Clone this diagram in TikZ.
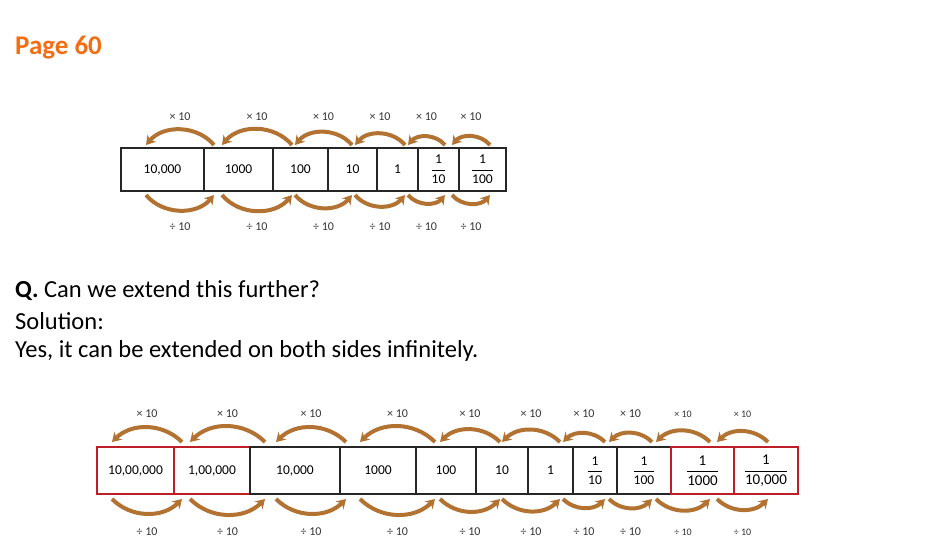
\documentclass[tikz,border=0pt]{standalone}
\usepackage{fontspec}
\setmainfont{Carlito}
\usetikzlibrary{arrows.meta}
\definecolor{arc}{RGB}{178,114,50}
\definecolor{ttl}{RGB}{242,110,20}
\definecolor{rbox}{RGB}{190,30,40}
\newcommand{\fr}[2]{$\displaystyle\frac{\mbox{#1}}{\mbox{#2}}$}
\tikzset{
 cell/.style={draw=black!85,line width=1.4pt,minimum height=43pt,inner sep=0pt,font=\fontsize{13.5}{14}\selectfont},
 rcell/.style={cell,draw=rbox,line width=1.3pt},
 carc/.style={draw=arc,line width=4pt,-{Stealth[length=9pt,width=11pt]}},
 lab/.style={font=\fontsize{12}{13}\selectfont,text=black!80},
 qtext/.style={anchor=west,font=\fontsize{24.5}{26}\selectfont,inner sep=0pt}
}
\begin{document}
\begin{tikzpicture}[x=1pt,y=-1pt]
\useasboundingbox (0,0) rectangle (941,550);
\node[anchor=west,text=ttl,font=\fontsize{27}{29}\selectfont\bfseries,inner sep=0pt] (title) at (15,48) {Page 60};
% top row
\foreach \n/\a/\b/\t in {t1/121/204/{10,000},t2/204/273/1000,t3/273/328/100,t4/328/377/10,t5/377/418/1,t6/418/459/{\fr{1}{10}},t7/459/506/{\fr{1}{100}}}{
 \pgfmathsetmacro\w{\b-\a}
 \node[cell,minimum width=\w pt] (\n) at ({(\a+\b)/2},169.5) {\t};
}
\foreach \i/\a/\b in {1/146/214,2/222/292,3/295/352,4/355/405,5/408/445,6/452/490}{
 \coordinate (tu\i a) at (\a,145); \coordinate (tu\i b) at (\b,145);
 \coordinate (td\i a) at (\a,195); \coordinate (td\i b) at (\b,195);
 \draw[carc] (tu\i b) to[bend right=50] (tu\i a);
 \draw[carc] (td\i a) to[bend right=50] (td\i b);
 \node[lab] (tm\i) at ({(\a+\b)/2},117) {× 10};
 \node[lab] (tv\i) at ({(\a+\b)/2},227) {÷ 10};
}
\node[qtext] (q1) at (15,291) {\textbf{Q.} Can we extend this further?};
\node[qtext] (q2) at (15,321) {Solution:};
\node[qtext] (q3) at (15,351) {Yes, it can be extended on both sides infinitely.};
% bottom row
\foreach \n/\a/\b/\t/\s in {b1/97/174/{10,00,000}/rcell,b2/174/250/{1,00,000}/rcell,b3/250/340/{10,000}/cell,b4/340/416/1000/cell,b5/416/476/100/cell,b6/476/528/10/cell,b7/528/573/1/cell,b8/573/617/{\fr{1}{10}}/cell,b9/617/671/{\fr{1}{100}}/cell,b10/671/734/{\fontsize{15}{16}\selectfont\fr{1}{1000}}/rcell,b11/734/798/{\fontsize{15}{16}\selectfont\fr{1}{10,000}}/rcell}{
 \pgfmathsetmacro\w{\b-\a}
 \node[\s,minimum width=\w pt,minimum height=47pt] (\n) at ({(\a+\b)/2},470.5) {\t};
}
\foreach \i/\a/\b/\f in {1/112/182/12,2/190/265/12,3/276/346/12,4/360/435/12,5/440/500/12,6/502/560/12,7/563/605/12,8/609/652/12,9/656/710/10,10/717/768/10}{
 \coordinate (bu\i a) at (\a,442); \coordinate (bu\i b) at (\b,442);
 \coordinate (bd\i a) at (\a,499); \coordinate (bd\i b) at (\b,499);
 \draw[carc] (bu\i b) to[bend right=45] (bu\i a);
 \draw[carc] (bd\i a) to[bend right=45] (bd\i b);
 \node[lab,font=\fontsize{\f}{13}\selectfont] (bm\i) at ({(\a+\b)/2},414) {× 10};
 \node[lab,font=\fontsize{\f}{13}\selectfont] (bv\i) at ({(\a+\b)/2},532) {÷ 10};
}
\end{tikzpicture}
\end{document}
